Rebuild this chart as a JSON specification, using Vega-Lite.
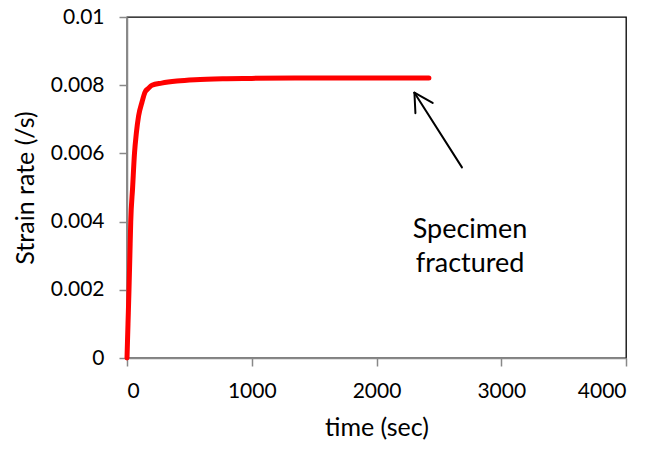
{
  "$schema": "https://vega.github.io/schema/vega-lite/v6.json",
  "width": 499,
  "height": 341,
  "autosize": {"type": "none"},
  "padding": {"left": 127, "top": 17, "right": 30, "bottom": 92},
  "config": {
    "font": "Lato",
    "view": {"stroke": "#000000", "strokeWidth": 1.3},
    "axis": {
      "grid": false,
      "domainColor": "#888888",
      "domainWidth": 1.5,
      "tickColor": "#888888",
      "tickWidth": 1.5,
      "tickSize": 8,
      "labelFont": "Lato",
      "labelFontSize": 21,
      "labelColor": "#000000",
      "titleFont": "Lato",
      "titleFontSize": 25,
      "titleFontWeight": "normal",
      "titleColor": "#000000"
    }
  },
  "datasets": {
    "curve": [
      {"t": 0, "rate": 0},
      {"t": 8, "rate": 0.001},
      {"t": 16, "rate": 0.002},
      {"t": 23, "rate": 0.003},
      {"t": 30, "rate": 0.004},
      {"t": 45, "rate": 0.005},
      {"t": 60, "rate": 0.006},
      {"t": 75, "rate": 0.0066},
      {"t": 93, "rate": 0.0071},
      {"t": 120, "rate": 0.0075},
      {"t": 145, "rate": 0.0078},
      {"t": 170, "rate": 0.0079},
      {"t": 200, "rate": 0.008},
      {"t": 277, "rate": 0.00806},
      {"t": 400, "rate": 0.00812},
      {"t": 545, "rate": 0.00816},
      {"t": 800, "rate": 0.00819},
      {"t": 1000, "rate": 0.0082},
      {"t": 1500, "rate": 0.00821},
      {"t": 2000, "rate": 0.00821},
      {"t": 2420, "rate": 0.00821}
    ],
    "arrow": [
      {"x1": 2685, "y1": 0.00559, "x2": 2304, "y2": 0.00778},
      {"x1": 2450, "y1": 0.00748, "x2": 2304, "y2": 0.00778},
      {"x1": 2312, "y1": 0.00718, "x2": 2304, "y2": 0.00778}
    ],
    "labels": [
      {"x": 2750, "y": 0.00376, "text": "Specimen"},
      {"x": 2750, "y": 0.00276, "text": "fractured"}
    ]
  },
  "layer": [
    {
      "data": {"name": "curve"},
      "mark": {"type": "line", "color": "#FF0000", "strokeWidth": 5, "strokeCap": "round", "strokeJoin": "round", "interpolate": "monotone"},
      "encoding": {
        "x": {
          "field": "t", "type": "quantitative",
          "scale": {"domain": [0, 4000], "nice": false},
          "axis": {"values": [0, 1000, 2000, 3000, 4000], "format": "d", "title": "time (sec)", "labelPadding": 14, "titlePadding": 14}
        },
        "y": {
          "field": "rate", "type": "quantitative",
          "scale": {"domain": [0, 0.01], "nice": false},
          "axis": {"values": [0, 0.002, 0.004, 0.006, 0.008, 0.01], "format": ".3~f", "title": "Strain rate (/s)", "labelPadding": 15, "titlePadding": 12}
        }
      }
    },
    {
      "data": {"name": "arrow"},
      "mark": {"type": "rule", "color": "#000000", "strokeWidth": 2, "strokeCap": "round"},
      "encoding": {
        "x": {"field": "x1", "type": "quantitative"},
        "y": {"field": "y1", "type": "quantitative"},
        "x2": {"field": "x2"},
        "y2": {"field": "y2"}
      }
    },
    {
      "data": {"name": "labels"},
      "mark": {"type": "text", "font": "Lato", "fontSize": 27, "align": "center", "baseline": "middle", "color": "#000000"},
      "encoding": {
        "x": {"field": "x", "type": "quantitative"},
        "y": {"field": "y", "type": "quantitative"},
        "text": {"field": "text"}
      }
    }
  ]
}
